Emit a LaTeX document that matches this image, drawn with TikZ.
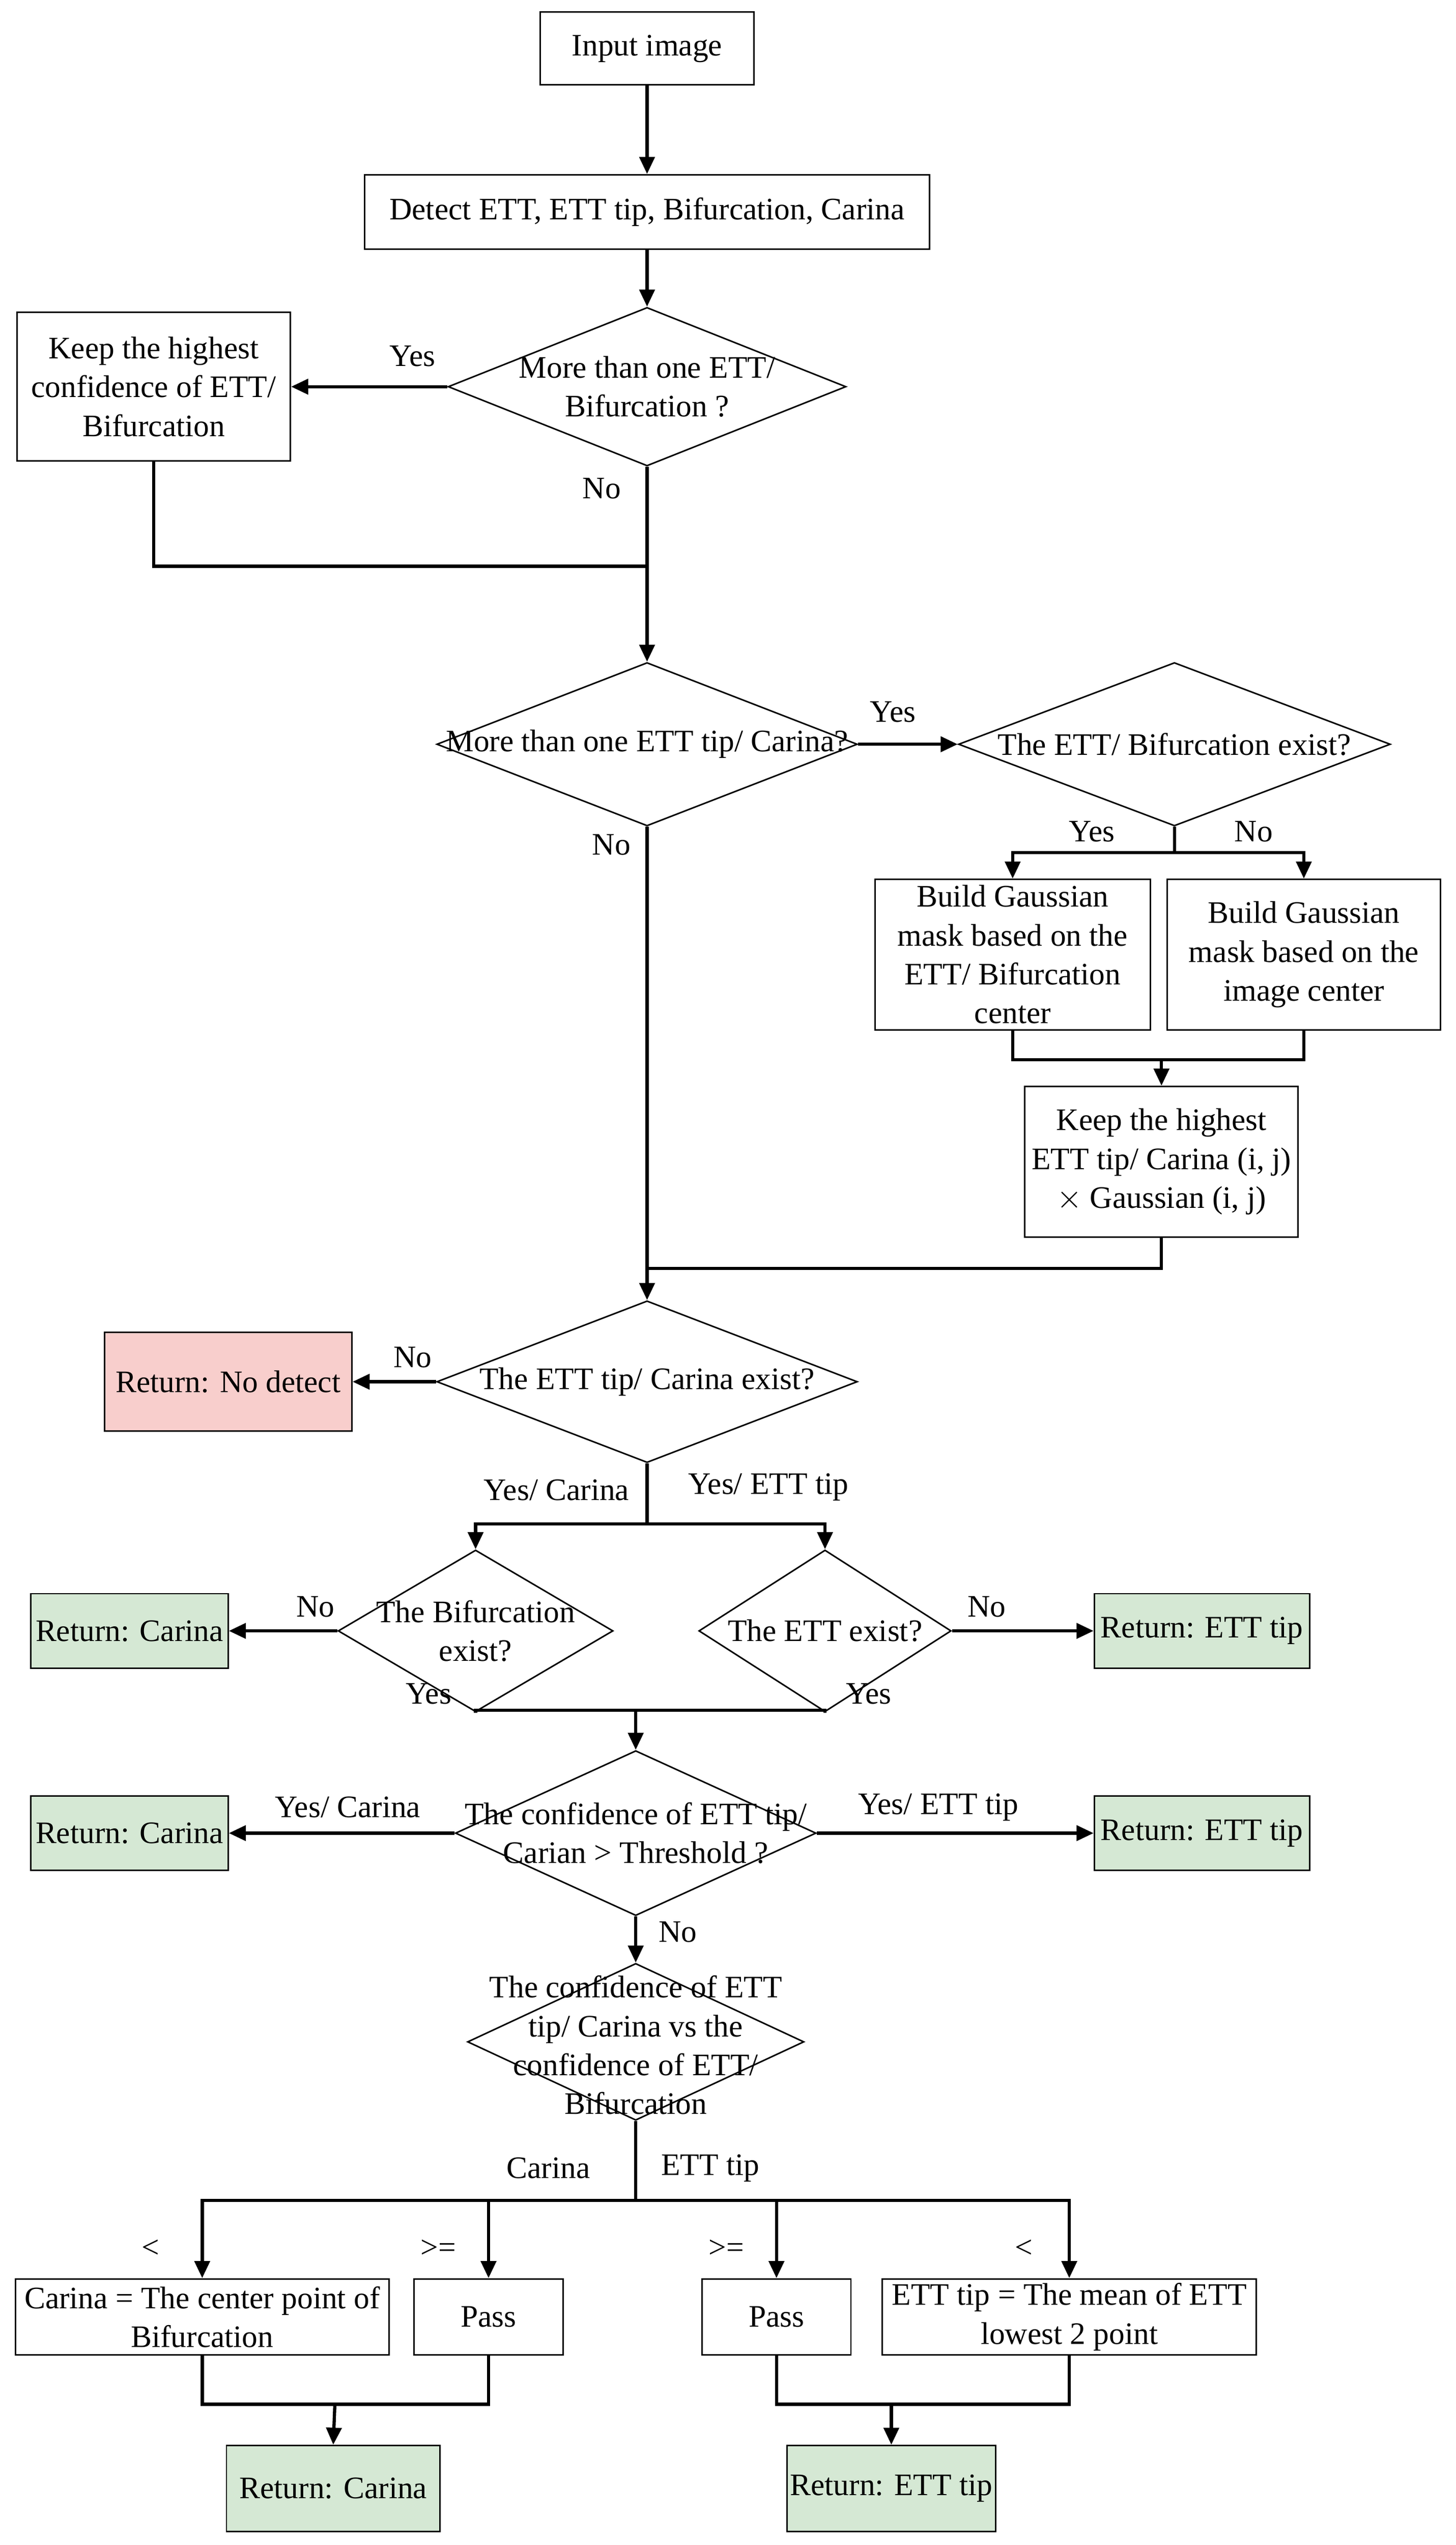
\documentclass[tikz,border=0pt]{standalone}
\usepackage{fontspec}
\setmainfont{Liberation Serif}
\usetikzlibrary{shapes.geometric,arrows.meta}
\definecolor{pinkf}{HTML}{F8CECC}
\definecolor{greenf}{HTML}{D5E8D4}
\begin{document}
\begin{tikzpicture}[x=0.03cm,y=-0.03cm,
  every node/.style={font=\fontsize{16.5}{20.5}\selectfont},
  box/.style={draw,line width=0.8pt,align=center,inner sep=0pt},
  dia/.style={draw,diamond,line width=0.8pt,inner sep=0pt},
  lbl/.style={align=center,inner sep=0pt},
  ar/.style={line width=1.7pt,-{Triangle[length=9pt,width=8pt]}},
  ln/.style={line width=1.7pt}]
\path[use as bounding box] (0,0) rectangle (900,1573);
% nodes
\node[box,minimum width=3.96cm,minimum height=1.35cm] (in) at (400,30) {Input image};
\node[box,minimum width=10.47cm,minimum height=1.38cm] (det) at (400,131) {Detect ETT, ETT tip, Bifurcation, Carina};
\node[dia,minimum width=7.38cm,minimum height=2.94cm] (d1) at (400,239) {};
\node[lbl] at (d1) {More than one ETT/\\Bifurcation ?};
\node[box,minimum width=5.07cm,minimum height=2.76cm] (k1) at (95,239) {Keep the highest\\confidence of ETT/\\Bifurcation};
\node[dia,minimum width=7.8cm,minimum height=3.03cm] (d2) at (400,460) {};
\node[lbl] at (d2) {More than one ETT tip/ Carina?};
\node[dia,minimum width=8.01cm,minimum height=3.03cm] (d3) at (726,460) {};
\node[lbl] at (d3) {The ETT/ Bifurcation exist?};
\node[box,minimum width=5.1cm,minimum height=2.79cm] (g1) at (626,590) {Build Gaussian\\mask based on the\\ETT/ Bifurcation\\center};
\node[box,minimum width=5.07cm,minimum height=2.79cm] (g2) at (806,590) {Build Gaussian\\mask based on the\\image center};
\node[box,minimum width=5.07cm,minimum height=2.79cm] (k2) at (718,718) {Keep the highest\\ETT tip/ Carina (i, j)\\$\times$ Gaussian (i, j)};
\node[dia,minimum width=7.8cm,minimum height=3.0cm] (d4) at (400,854) {};
\node[lbl] at (d4) {The ETT tip/ Carina exist?};
\node[box,fill=pinkf,minimum width=4.59cm,minimum height=1.83cm] (rnd) at (141,854) {Return: No detect};
\node[dia,minimum width=5.1cm,minimum height=3.0cm] (d5) at (294,1008) {};
\node[lbl] at (d5) {The Bifurcation\\exist?};
\node[dia,minimum width=4.68cm,minimum height=3.0cm] (d6) at (510,1008) {};
\node[lbl] at (d6) {The ETT exist?};
\node[box,fill=greenf,minimum width=3.66cm,minimum height=1.38cm] (rc1) at (80,1008) {Return: Carina};
\node[box,fill=greenf,minimum width=3.99cm,minimum height=1.38cm] (re1) at (743,1008) {Return: ETT tip};
\node[dia,minimum width=6.69cm,minimum height=3.06cm] (d7) at (393,1133) {};
\node[lbl] at (d7) {The confidence of ETT tip/\\Carian > Threshold ?};
\node[box,fill=greenf,minimum width=3.66cm,minimum height=1.38cm] (rc2) at (80,1133) {Return: Carina};
\node[box,fill=greenf,minimum width=3.99cm,minimum height=1.38cm] (re2) at (743,1133) {Return: ETT tip};
\node[dia,minimum width=6.24cm,minimum height=2.91cm] (d8) at (393,1262) {};
\node[lbl] at (393,1264) {The confidence of ETT\\tip/ Carina vs the\\confidence of ETT/\\Bifurcation};
\node[box,minimum width=6.93cm,minimum height=1.41cm] (b1) at (125,1432) {Carina = The center point of\\Bifurcation};
\node[box,minimum width=2.76cm,minimum height=1.41cm] (p1) at (302,1432) {Pass};
\node[box,minimum width=2.76cm,minimum height=1.41cm] (p2) at (480,1432) {Pass};
\node[box,minimum width=6.93cm,minimum height=1.41cm] (b2) at (661,1432) {ETT tip = The mean of ETT\\lowest 2 point};
\node[box,fill=greenf,minimum width=3.96cm,minimum height=1.59cm] (rc3) at (206,1538) {Return: Carina};
\node[box,fill=greenf,minimum width=3.87cm,minimum height=1.59cm] (re3) at (551,1538) {Return: ETT tip};
% labels
\node at (255,220) {Yes};
\node at (372,302) {No};
\node at (552,440) {Yes};
\node at (378,522) {No};
\node at (675,514) {Yes};
\node at (775,514) {No};
\node at (255,839) {No};
\node at (344,921) {Yes/ Carina};
\node at (475,919) {Yes/ ETT tip};
\node at (195,993) {No};
\node at (610,993) {No};
\node at (265,1047) {Yes};
\node at (537,1047) {Yes};
\node at (215,1117) {Yes/ Carina};
\node at (580,1117) {Yes/ ETT tip};
\node at (419,1194) {No};
\node at (339,1340) {Carina};
\node at (439,1340) {ETT tip};
\node at (93,1390) {<};
\node at (271,1390) {>=};
\node at (449,1390) {>=};
\node at (633,1390) {<};
% coordinates
\coordinate (m1) at (400,350);
\coordinate (s3) at (726,527);
\coordinate (m3) at (718,655);
\coordinate (m4) at (400,784);
\coordinate (s4) at (400,942);
\coordinate (m5) at (393,1057);
\coordinate (s8) at (393,1360);
\coordinate (m9) at (207,1486);
\coordinate (m10) at (551,1486);
% connectors
\draw[ar] (in) -- (det);
\draw[ar] (det) -- (d1.north);
\draw[ar] (d1.west) -- (k1.east);
\draw[ln] (k1.south) |- (m1);
\draw[ar] (d1.south) -- (d2.north);
\draw[ar] (d2.east) -- (d3.west);
\draw[ln] (d3.south) -- (s3);
\draw[ar] (s3) -| (g1.north);
\draw[ar] (s3) -| (g2.north);
\draw[ln] (g1.south) |- (m3);
\draw[ln] (g2.south) |- (m3);
\draw[ar] (m3) -- (k2.north);
\draw[ln] (k2.south) |- (m4);
\draw[ar] (d2.south) -- (d4.north);
\draw[ar] (d4.west) -- (rnd.east);
\draw[ln] (d4.south) -- (s4);
\draw[ar] (s4) -| (d5.north);
\draw[ar] (s4) -| (d6.north);
\draw[ar] (d5.west) -- (rc1.east);
\draw[ar] (d6.east) -- (re1.west);
\draw[ln] (d5.south) |- (m5);
\draw[ln] (d6.south) |- (m5);
\draw[ar] (m5) -- (d7.north);
\draw[ar] (d7.west) -- (rc2.east);
\draw[ar] (d7.east) -- (re2.west);
\draw[ar] (d7.south) -- (d8.north);
\draw[ln] (d8.south) -- (s8);
\draw[ar] (s8) -| (b1.north);
\draw[ar] (s8) -| (p1.north);
\draw[ar] (s8) -| (p2.north);
\draw[ar] (s8) -| (b2.north);
\draw[ln] (b1.south) |- (m9);
\draw[ln] (p1.south) |- (m9);
\draw[ar] (m9) -- (rc3.north);
\draw[ln] (p2.south) |- (m10);
\draw[ln] (b2.south) |- (m10);
\draw[ar] (m10) -- (re3.north);
\end{tikzpicture}
\end{document}
